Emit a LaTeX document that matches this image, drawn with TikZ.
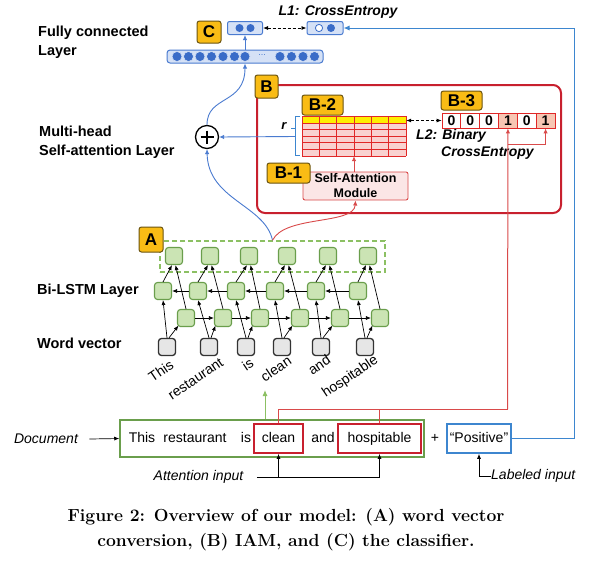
\documentclass[tikz,border=0pt]{standalone}
\usepackage{fontspec}
\setsansfont{Liberation Sans}
\usetikzlibrary{arrows.meta,calc}
\definecolor{labY}{HTML}{F9BC15}
\definecolor{labD}{HTML}{6B5410}
\definecolor{bluB}{HTML}{4A7BD0}
\definecolor{bluF}{HTML}{D5E1F6}
\definecolor{bluC}{HTML}{3A6CC8}
\definecolor{bluL}{HTML}{3D86CF}
\definecolor{redB}{HTML}{C8202E}
\definecolor{redL}{HTML}{D94A4A}
\definecolor{redG}{HTML}{E02828}
\definecolor{pinkF}{HTML}{F9D2D0}
\definecolor{pinkM}{HTML}{FBE6E6}
\definecolor{yelG}{HTML}{FFEE00}
\definecolor{grnF}{HTML}{CBE4B4}
\definecolor{grnD}{HTML}{6A9E4C}
\definecolor{grnL}{HTML}{8CC063}
\definecolor{grayF}{HTML}{E6E6E6}
\definecolor{salm}{HTML}{F7C6B3}
\newcommand{\myfs}[1]{\fontsize{#1}{#1}\selectfont}
\begin{document}
\begin{tikzpicture}[x=1pt,y=-1pt,font=\sffamily,
  lab/.style={draw=labD, fill=labY, line width=1pt, rounded corners=2.5pt, inner sep=0pt, font=\sffamily\bfseries\myfs{17}},
  lstm/.style={draw=grnD, fill=grnF, line width=1.1pt, rounded corners=3pt, minimum width=17pt, minimum height=17pt, inner sep=0pt},
  wv/.style={draw=black!80, fill=grayF, line width=1.3pt, rounded corners=3pt, minimum width=17pt, minimum height=17pt, inner sep=0pt},
  arr/.style={-{Latex[length=5pt,width=4pt]}, line width=0.7pt},
  bluarr/.style={-{Latex[length=5pt,width=4.5pt]}, line width=0.9pt, draw=bluB},
  redarr/.style={-{Latex[length=5pt,width=4.5pt]}, line width=0.9pt, draw=redL},
  side/.style={font=\sffamily\bfseries\fontsize{14.5}{19}\selectfont, align=left, anchor=west, inner sep=0pt},
  doct/.style={font=\sffamily\myfs{14}, inner sep=0pt, text height=10pt, text depth=3pt},
  itl/.style={font=\sffamily\itshape\myfs{14}},
  bit/.style={font=\sffamily\bfseries\itshape\myfs{14}},
  word/.style={font=\sffamily\myfs{14}, rotate=34, anchor=east, inner sep=0pt},
  cell/.style={draw=redG, line width=0.8pt, minimum width=18.83pt, minimum height=15pt, inner sep=0pt, font=\sffamily\bfseries\myfs{14}},
  smallbox/.style={draw=bluB, fill=bluF, line width=1pt, rounded corners=2pt, minimum height=13pt, inner sep=0pt}
]
\useasboundingbox (0,0) rectangle (596,574);
\fill[white] (0,0) rectangle (596,574);

% side labels
\node[side] (tfc) at (38,42.5) {Fully connected\\Layer};
\node[side] (tmh) at (39,142) {Multi-head\\Self-attention Layer};
\node[side] (tbl) at (37,291) {Bi-LSTM Layer};
\node[side] (twv) at (37,343) {Word vector};

% (C) classifier
\node[lab, minimum width=24pt, minimum height=22pt] (labC) at (209,32) {C};
\node[smallbox, minimum width=35pt] (outC) at (245,28) {};
\fill[bluC] (239.5,28) circle (4);
\fill[bluC] (250.5,28) circle (4);
\node[smallbox, minimum width=36pt] (tgt) at (325,28) {};
\filldraw[fill=white, draw=bluC, line width=0.8pt] (319,28) circle (3.6);
\fill[bluC] (331,28) circle (4);
\node[bit] (l1) at (338,12) {L1: CrossEntropy};
\draw[densely dashed, line width=0.8pt, {Latex[length=5pt,width=4pt]}-{Latex[length=5pt,width=4pt]}] (outC.east) -- (tgt.west);

\node[draw=bluB, fill=bluF, line width=1pt, rounded corners=3pt, minimum width=156pt, minimum height=13pt, inner sep=0pt] (fc) at (245,56.5) {};
\foreach \x in {177,188.5,200,211.5,223,234.5,245,280,291.5,303,314.5}
  \filldraw[fill=bluC, draw=bluF, line width=0.6pt] (\x,56.5) circle (5);
\node[font=\sffamily\myfs{9}, text=bluB, inner sep=0pt] (dots) at (262,55.5) {...};
\draw[bluarr] (fc.north) -- (outC.south);

% (B) box
\node[draw=redB, line width=2pt, rounded corners=8pt, minimum width=304pt, minimum height=128pt, inner sep=0pt] (boxB) at (409,149) {};
\node[lab, minimum width=23pt, minimum height=23pt] (labB) at (266.5,86.5) {B};

% grid B-2
\fill[pinkF] (302,123) rectangle (406,156);
\fill[yelG] (302,116) rectangle (406,123);
\foreach \i in {0,...,6} \draw[redG, line width=0.8pt] ({302+\i*17.333},116) -- ({302+\i*17.333},156);
\foreach \y in {116,123,129.6,136.2,142.8,149.4,156} \draw[redG, line width=0.8pt] (302,\y) -- (406,\y);
\node[minimum width=104pt, minimum height=40pt, inner sep=0pt] (grid) at (354,136) {};
\node[lab, minimum width=41pt, minimum height=20pt] (labB2) at (322.5,105) {B-2};

% bracket r
\draw[bluL, line width=0.8pt] (300,116.5) -- (295,116.5) -- (295,155.5) -- (300,155.5);
\draw[bluL, line width=0.8pt] (295,128) -- (291,128);
\node[font=\sffamily\bfseries\itshape\myfs{13}, inner sep=0pt] (rlab) at (284,126) {r};
\coordinate (brk) at (295,136.5);

% plus
\node[circle, draw, line width=1.3pt, minimum size=23pt, inner sep=0pt] (plus) at (207,137) {};
\draw[line width=1.3pt] ($(plus.center)+(-6.5,0)$) -- ($(plus.center)+(6.5,0)$);
\draw[line width=1.3pt] ($(plus.center)+(0,-6.5)$) -- ($(plus.center)+(0,6.5)$);
\draw[bluarr] (brk) -- (plus.east);
\draw[bluarr] (plus.north) .. controls (207,95) and (245,105) .. (fc.south);

% B-3 vector
\foreach \i/\v/\c in {1/0/white,2/0/white,3/0/white,4/1/salm,5/0/white,6/1/salm}
  \node[cell, fill=\c] (v\i) at ({432.6+\i*18.83},120.5) {\v};
\node[lab, minimum width=41pt, minimum height=19pt] (labB3) at (461.5,100.5) {B-3};
\draw[densely dashed, line width=0.8pt, {Latex[length=5pt,width=4pt]}-{Latex[length=5pt,width=4pt]}] (grid.east |- v1.west) -- (v1.west);
\node[bit, anchor=west, inner sep=0pt] (l2a) at (416,136) {L2: Binary};
\node[bit, anchor=west, inner sep=0pt] (l2b) at (441,153) {CrossEntropy};

% B-1 module
\node[draw=redL, fill=pinkM, rounded corners=2pt, line width=0.9pt, minimum width=105pt, minimum height=28pt, align=center, inner sep=0pt, font=\sffamily\bfseries\fontsize{12.5}{15}\selectfont] (mod) at (355.5,186) {Self-Attention\\Module};
\node[lab, minimum width=43pt, minimum height=20pt] (labB1) at (288.5,173) {B-1};
\draw[redarr] (grid.south |- mod.north) -- (grid.south);

% (A) LSTM
\node[draw=grnL, dash pattern=on 5pt off 3pt, line width=1.5pt, minimum width=225pt, minimum height=31pt, inner sep=0pt] (boxA) at (272.5,256.5) {};
\node[lab, minimum width=24pt, minimum height=25pt] (labA) at (151,239.5) {A};

\foreach \i/\x in {1/167,2/209,3/246,4/282,5/321,6/365} \node[wv] (w\i) at (\x,347) {};
\foreach \i/\x in {1/186,2/223,3/260,4/300,5/340,6/380} \node[lstm] (f\i) at (\x,318) {};
\foreach \i/\x in {1/163,2/198,3/236,4/275,5/316,6/358} \node[lstm] (b\i) at (\x,291) {};
\foreach \i/\x in {1/174,2/210,3/249,4/287,5/328,6/368} \node[lstm] (t\i) at (\x,256) {};

\foreach \i in {1,...,6} {
  \draw[arr] (w\i.north) -- (b\i.south);
  \draw[arr] ([xshift=2pt]w\i.north) -- ([shift={(1.5pt,1.5pt)}]f\i.south west);
  \draw[arr] (b\i.north) -- ([xshift=-2pt]t\i.south);
  \draw[arr] (f\i.north) -- ([xshift=1.5pt]t\i.south);
}
\foreach \i/\j in {1/2,2/3,3/4,4/5,5/6} {
  \draw[arr] (f\i.east) -- (f\j.west);
  \draw[arr] (b\j.west) -- (b\i.east);
}

\node[word] (s1) at ([xshift=5pt,yshift=-7pt]w1.south) {This};
\node[word] (s2) at ([xshift=13pt,yshift=-5pt]w2.south) {restaurant};
\node[word] (s3) at ([xshift=6pt,yshift=-5pt]w3.south) {is};
\node[word] (s4) at ([xshift=8pt,yshift=-3pt]w4.south) {clean};
\node[word] (s5) at ([xshift=8pt,yshift=-2pt]w5.south) {and};
\node[word] (s6) at ([xshift=12pt,yshift=-3pt]w6.south) {hospitable};

\draw[bluarr] (boxA.north) .. controls (265,205) and (208,200) .. (plus.south);
\draw[redarr] (boxA.north) .. controls (285,215) and (354,225) .. (mod.south);

% document row
\node[itl] (docl) at (46,439) {Document};
\node[draw=grnD, line width=1.5pt, minimum width=304pt, minimum height=37pt, inner sep=0pt] (doc) at (272,438.5) {};
\node[doct] (d1) at (142,438.5) {This};
\node[doct] (d2) at (195,438.5) {restaurant};
\node[doct] (d3) at (246,438.5) {is};
\node[doct, draw=redB, line width=1.5pt, minimum width=49pt, minimum height=29pt] (clean) at (278.5,438.5) {clean};
\node[doct] (d5) at (323,438.5) {and};
\node[doct, draw=redB, line width=1.5pt, minimum width=83pt, minimum height=29pt] (hosp) at (379.5,438.5) {hospitable};
\node[doct] (plusd) at (435,438.5) {+};
\node[doct, draw=bluL, line width=1.5pt, minimum width=64pt, minimum height=29pt] (pos) at (479,438.5) {“Positive”};
\draw[arr] ([xshift=8pt]docl.east) -- (doc.west);

\coordinate (gtip) at (265,390);
\draw[-{Latex[length=6pt,width=5pt]}, line width=1pt, draw=grnL] (gtip |- doc.north) -- (gtip);

\coordinate (rj) at (507.5,409);
\draw[redL, line width=1pt] (clean.north) |- (rj);
\draw[redL, line width=1pt] (hosp.north) -- (hosp.north |- rj);
\draw[redarr, line width=1pt] (rj) -- (v4.south);
\coordinate (br) at (507.5,144);
\draw[redarr, line width=1pt] (br) -| (v6.south);

\node[itl] (att) at (198.5,477) {Attention input};
\draw[line width=0.8pt] ([xshift=10pt]att.east) -- (hosp.south |- att.east);
\draw[arr, line width=0.8pt] (clean.south |- att.east) -- (clean.south);
\draw[arr, line width=0.8pt] (hosp.south |- att.east) -- (hosp.south);

\node[itl, anchor=west, inner sep=0pt] (labin) at (491,476) {Labeled input};
\draw[arr, line width=0.8pt] (labin.west) -| (pos.south);

\coordinate (bc) at (574,28);
\draw[-{Latex[length=6pt,width=5pt]}, line width=1pt, draw=bluL] (pos.east) -| (bc) -- (tgt.east);

% caption
\node[font=\bfseries\fontsize{17.5}{25}\selectfont, align=center] (cap) at (286,529.5) {Figure 2: Overview of our model: (A) word vector\\conversion, (B) IAM, and (C) the classifier.};
\end{tikzpicture}
\end{document}
